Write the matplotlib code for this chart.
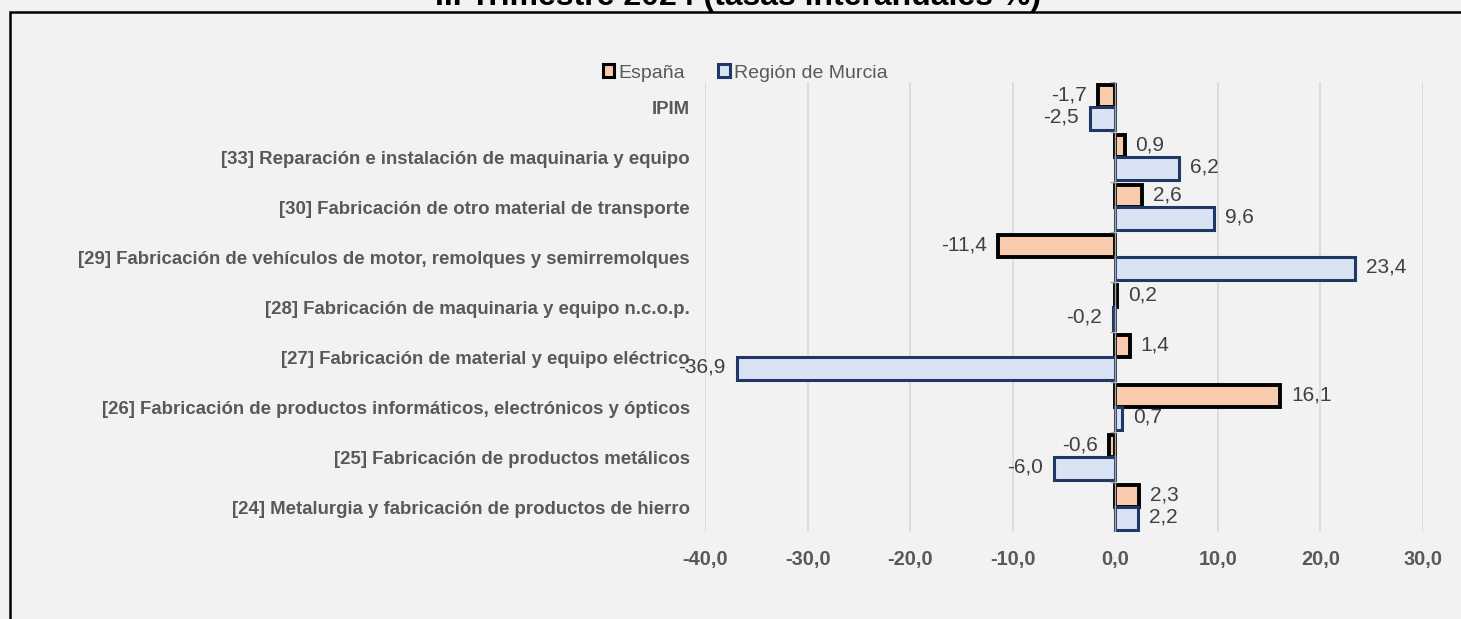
import matplotlib.pyplot as plt
from matplotlib.patches import Patch, Rectangle
import numpy as np

categories = [
    'IPIM',
    '[33] Reparación e instalación de maquinaria y equipo',
    '[30] Fabricación de otro material de transporte',
    '[29] Fabricación de vehículos de motor, remolques y semirremolques',
    '[28] Fabricación de maquinaria y equipo n.c.o.p.',
    '[27] Fabricación de material y equipo eléctrico',
    '[26] Fabricación de productos informáticos, electrónicos y ópticos',
    '[25] Fabricación de productos metálicos',
    '[24] Metalurgia y fabricación de productos de hierro',
]
espana = [-1.7, 0.9, 2.6, -11.4, 0.2, 1.4, 16.1, -0.6, 2.3]
murcia = [-2.5, 6.2, 9.6, 23.4, -0.2, -36.9, 0.7, -6.0, 2.2]
xticks = [-40, -30, -20, -10, 0, 10, 20, 30]
title = 'III Trimestre 2024 (tasas interanuales %)'

plt.rcParams['font.family'] = ['Liberation Sans', 'DejaVu Sans']

W, H = 1461, 619
bg = '#F2F2F2'
fig = plt.figure(figsize=(W / 100, H / 100), dpi=100, facecolor=bg)
ax = fig.add_axes([705 / W, 1 - 532 / H, (1423 - 705) / W, (532 - 82) / H])
ax.set_facecolor(bg)

y = np.arange(len(categories))
h = 0.45
ax.barh(y - h / 2, espana, height=h, color='#F8CBAD', edgecolor='black', linewidth=2.8, zorder=3)
ax.barh(y + h / 2, murcia, height=h, color='#DAE3F3', edgecolor='#1F3864', linewidth=2.2, zorder=3)

def fmt(v):
    return f'{v:.1f}'.replace('.', ',')

for yy, vals in [(y - h / 2, espana), (y + h / 2, murcia)]:
    for yi, v in zip(yy, vals):
        off = 11 if v >= 0 else -11
        ax.annotate(fmt(v), (v, yi), xytext=(off, 1), textcoords='offset pixels',
                    ha='left' if v >= 0 else 'right', va='center',
                    fontsize=15, color='#404040', zorder=5)

ax.set_xlim(-40, 30)
ax.set_ylim(len(categories) - 0.5, -0.5)
ax.set_xticks(xticks)
ax.set_xticklabels([fmt(t) for t in xticks], fontsize=14.4, fontweight='bold', color='#595959')
ax.set_yticks(y)
ax.set_yticklabels(categories, fontsize=13.4, fontweight='bold', color='#595959')
ax.tick_params(axis='x', length=0, pad=13)
ax.tick_params(axis='y', length=0, pad=11)
ax.grid(axis='x', color='#D9D9D9', linewidth=1.2, zorder=0)
for s in ax.spines.values():
    s.set_visible(False)

# eje de categorías en x = 0
ax.axvline(0, color='#A6A6A6', linewidth=1, zorder=4)
ax.hlines(np.arange(len(categories) + 1) - 0.5, -0.5, 0, color='#A6A6A6', linewidth=1, zorder=4)

handles = [Patch(facecolor='#F8CBAD', edgecolor='black', linewidth=2.2, label='España'),
           Patch(facecolor='#DAE3F3', edgecolor='#1F3864', linewidth=2.2, label='Región de Murcia')]
fig.legend(handles=handles, loc='center', bbox_to_anchor=(745 / W, 1 - 73 / H), ncol=2,
           frameon=False, fontsize=14, handlelength=0.6, handleheight=0.6,
           handletextpad=0.2, columnspacing=1.7, labelcolor='#595959')

fig.add_artist(Rectangle((10 / W, -0.1), 1.1, 1.1 - 12 / H, transform=fig.transFigure,
                         fill=False, edgecolor='black', linewidth=1.8, clip_on=False))
fig.text(738 / W, 1 - 5 / H, title, ha='center', va='baseline', fontsize=23,
         fontweight='bold', color='black')

fig.savefig('out.png', dpi=100, facecolor=bg)
